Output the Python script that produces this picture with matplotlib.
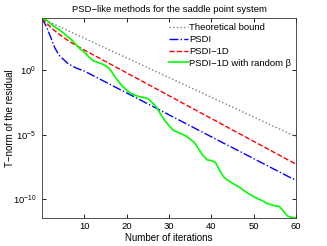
import numpy as np
import matplotlib
matplotlib.use("Agg")
import matplotlib.pyplot as plt
from matplotlib.ticker import NullLocator

plt.rcParams['font.family'] = ['Liberation Sans', 'DejaVu Sans']
plt.rcParams['mathtext.fontset'] = 'custom'
plt.rcParams['mathtext.rm'] = 'Liberation Sans'

iters = np.arange(0, 61)

bound_end = -5.15  # theoretical bound is a straight line in log scale
log_bound = [4.0, bound_end]

log_psdi = [4.0, 3.4, 2.6, 1.75, 1.17, 0.85, 0.55, 0.35, 0.17, 0.05, -0.07,
            -0.24, -0.41, -0.58, -0.75, -0.92, -1.09, -1.26, -1.43, -1.6, -1.76,
            -1.93, -2.1, -2.27, -2.44, -2.61, -2.78, -2.95, -3.12, -3.29, -3.46,
            -3.63, -3.8, -3.97, -4.14, -4.31, -4.48, -4.65, -4.82, -4.99, -5.16,
            -5.33, -5.5, -5.67, -5.84, -6.0, -6.17, -6.34, -6.51, -6.68, -6.85,
            -7.02, -7.19, -7.36, -7.53, -7.7, -7.87, -8.04, -8.21, -8.38, -8.5]

log_psdi1d = [4.0, 3.65, 3.35, 3.05, 2.8, 2.55, 2.33, 2.12, 1.92, 1.74, 1.56,
              1.38, 1.2, 1.03, 0.85, 0.67, 0.5, 0.32, 0.14, -0.03, -0.21,
              -0.39, -0.56, -0.74, -0.92, -1.09, -1.27, -1.45, -1.62, -1.8, -1.98,
              -2.15, -2.33, -2.51, -2.69, -2.86, -3.04, -3.22, -3.39, -3.57, -3.75,
              -3.92, -4.1, -4.28, -4.45, -4.63, -4.81, -4.98, -5.16, -5.34, -5.51,
              -5.69, -5.87, -6.04, -6.22, -6.4, -6.57, -6.75, -6.93, -7.1, -7.28]

log_random = [4.0, 3.9, 3.6, 3.35, 3.15, 2.9, 2.6, 2.35, 2.0, 1.65, 1.4,
              1.05, 0.75, 0.62, 0.5, 0.35, 0.1, -0.4, -0.85, -1.25, -1.55,
              -1.8, -1.95, -2.05, -2.12, -2.2, -2.5, -2.85, -3.4, -3.9, -4.3,
              -4.65, -4.8, -4.95, -5.1, -5.35, -5.6, -6.1, -6.6, -6.95, -7.0,
              -7.15, -7.8, -8.3, -8.55, -8.75, -8.95, -9.15, -9.4, -9.6, -9.8,
              -9.95, -10.1, -10.3, -10.4, -10.5, -10.55, -10.9, -11.3, -11.4, -11.45]

fig = plt.figure(figsize=(3.27, 2.46), dpi=100)
ax = fig.add_axes([0.1284, 0.1138, 0.7768, 0.8110])

ax.semilogy([iters[0], iters[-1]], 10.0 ** np.array(log_bound), ':', color='0.5',
            lw=1.0, label='Theoretical bound')
ax.semilogy(iters, 10.0 ** np.array(log_psdi), 'b-.', lw=1.0, label='PSDI')
ax.semilogy(iters, 10.0 ** np.array(log_psdi1d), 'r--', lw=1.0, label='PSDI\u22121D')
ax.semilogy(iters, 10.0 ** np.array(log_random), '-', color='#00ff00', lw=1.2,
            label='PSDI\u22121D with random \u03b2')

ax.set_xlim(0, 60)
ax.set_ylim(10.0 ** min(log_random), 1e4)
ax.set_xticks([10, 20, 30, 40, 50, 60])
ax.set_yticks([1e-10, 1e-5, 1e0])
ax.yaxis.set_minor_locator(NullLocator())
ax.tick_params(direction='in', top=True, right=True, labelsize=6.8, length=3,
               width=0.6)
ax.tick_params(axis='y', pad=4)
ax.tick_params(axis='x', pad=3)
for s in ax.spines.values():
    s.set_linewidth(0.6)
    s.set_color('0.2')

ax.set_title('PSD\u2212like methods for the saddle point system', fontsize=6.8, pad=5)
ax.set_xlabel('Number of iterations', fontsize=7, labelpad=1)
ax.set_ylabel('T\u2212norm of the residual', fontsize=7)
ax.yaxis.set_label_coords(-0.105, 0.5)

ax.legend(loc='upper right', fontsize=6.8, frameon=False,
          borderaxespad=0.2, handlelength=2.0, handletextpad=0.15,
          labelspacing=0.3, borderpad=0.3)

fig.savefig('out.png', dpi=100)
